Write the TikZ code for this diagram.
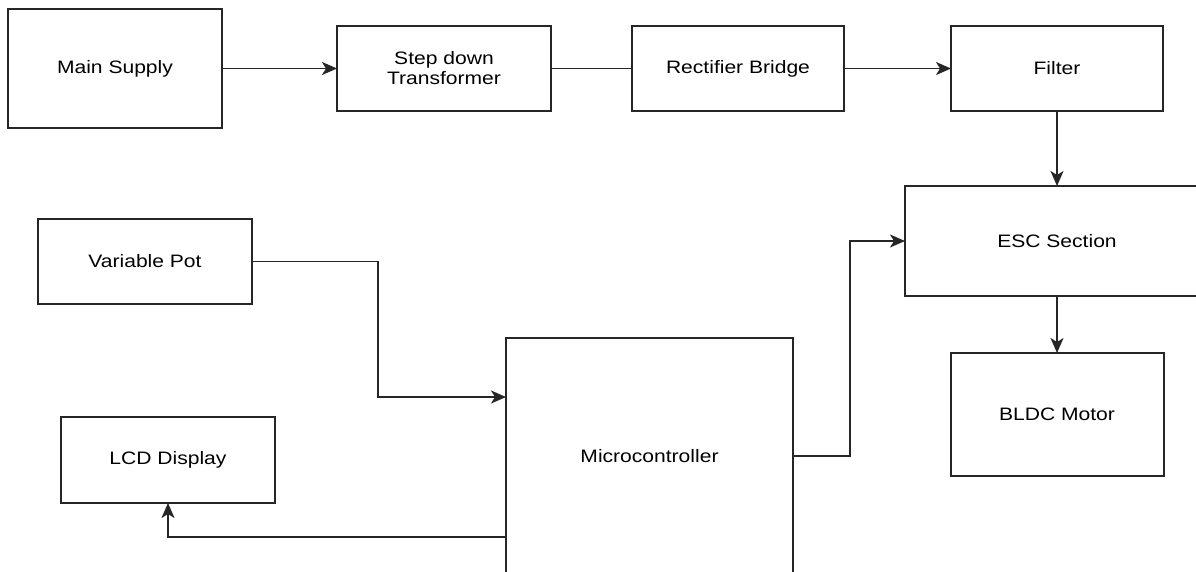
\documentclass[tikz,border=0pt]{standalone}
\usepackage{fontspec}
\setmainfont{Liberation Sans}
\usetikzlibrary{positioning,arrows.meta}

\newcommand{\widetxt}[1]{\scalebox{1.17}[1]{#1}}

\tikzset{
    block/.style={draw=black!85, line width=2pt, inner sep=0pt, outer sep=0pt,
        font=\fontsize{18}{20}\selectfont, align=center},
    link/.style={draw=black!85, line width=1.8pt},
    flow/.style={link, -{Stealth[length=15pt,width=13pt,inset=4pt]}},
}

\begin{document}
\begin{tikzpicture}[x=1pt,y=-1pt]
    \useasboundingbox (0,0) rectangle (1196,571);
    \clip (0,0) rectangle (1196,571);

    % power chain
    \node[block, minimum width=214pt, minimum height=119pt] at (115,68.5) (supply) {\widetxt{Main Supply}};
    \node[block, minimum width=214pt, minimum height=85pt, right=115pt of supply] (trafo) {\widetxt{Step down}\\\widetxt{Transformer}};
    \node[block, minimum width=212pt, minimum height=85pt, right=81pt of trafo] (rect) {\widetxt{Rectifier Bridge}};
    \node[block, minimum width=212pt, minimum height=85pt, right=107pt of rect] (filter) {\widetxt{Filter}};
    \node[block, minimum width=304pt, minimum height=110pt, below=75pt of filter] (esc) {\widetxt{ESC Section}};
    \node[block, minimum width=213pt, minimum height=123pt, below=57pt of esc] (bldc) {\widetxt{BLDC Motor}};

    % control side
    \node[block, minimum width=214pt, minimum height=85pt] at (145,261.5) (pot) {\widetxt{Variable Pot}};
    \node[block, minimum width=214pt, minimum height=86pt] at (168,460) (lcd) {\widetxt{LCD Display}};
    \node[block, minimum width=287pt, minimum height=236pt] at (649.5,456) (micro) {\widetxt{Microcontroller}};

    \draw[flow] (supply) -- (trafo);
    \draw[link] (trafo) -- (rect);
    \draw[flow] (rect) -- (filter);
    \draw[flow] (filter) -- (esc);
    \draw[flow] (esc) -- (bldc);

    \draw[flow] (pot.east) -- ++(126,0) |- ([yshift=59pt]micro.west);
    \draw[flow] (micro.east) -- ++(57,0) |- (esc.west);
    \draw[flow] ([yshift=-81pt]micro.west) -| (lcd.south);
\end{tikzpicture}
\end{document}
